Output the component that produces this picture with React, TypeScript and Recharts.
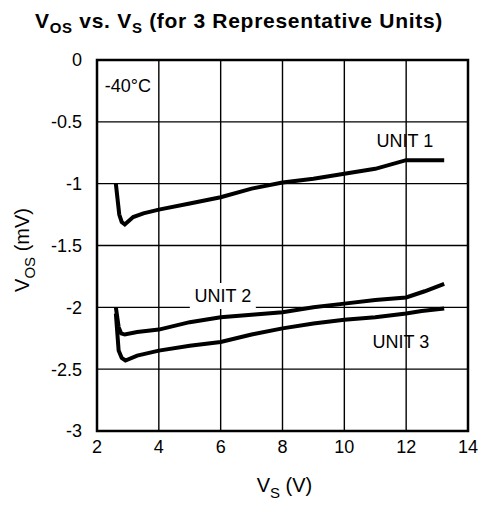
import { LineChart, Line, XAxis, YAxis, CartesianGrid, ReferenceArea, ReferenceDot } from 'recharts';

const X_TICKS = [2, 4, 6, 8, 10, 12, 14];
const Y_TICKS = [0, -0.5, -1, -1.5, -2, -2.5, -3];

const unit1 = [
  { vs: 2.61, vos: -1.0 },
  { vs: 2.72, vos: -1.25 },
  { vs: 2.8, vos: -1.31 },
  { vs: 2.9, vos: -1.33 },
  { vs: 3.17, vos: -1.27 },
  { vs: 3.5, vos: -1.24 },
  { vs: 4.0, vos: -1.21 },
  { vs: 5.0, vos: -1.16 },
  { vs: 6.0, vos: -1.11 },
  { vs: 7.0, vos: -1.04 },
  { vs: 8.0, vos: -0.99 },
  { vs: 9.0, vos: -0.96 },
  { vs: 10.0, vos: -0.92 },
  { vs: 11.0, vos: -0.88 },
  { vs: 12.0, vos: -0.81 },
  { vs: 13.23, vos: -0.81 },
];

const unit2 = [
  { vs: 2.61, vos: -2.0 },
  { vs: 2.7, vos: -2.16 },
  { vs: 2.78, vos: -2.21 },
  { vs: 2.9, vos: -2.22 },
  { vs: 3.3, vos: -2.2 },
  { vs: 4.0, vos: -2.18 },
  { vs: 5.0, vos: -2.12 },
  { vs: 6.0, vos: -2.08 },
  { vs: 7.0, vos: -2.06 },
  { vs: 8.0, vos: -2.04 },
  { vs: 9.0, vos: -2.0 },
  { vs: 10.0, vos: -1.97 },
  { vs: 11.0, vos: -1.94 },
  { vs: 12.0, vos: -1.92 },
  { vs: 12.6, vos: -1.87 },
  { vs: 13.23, vos: -1.81 },
];

const unit3 = [
  { vs: 2.61, vos: -2.05 },
  { vs: 2.7, vos: -2.35 },
  { vs: 2.8, vos: -2.41 },
  { vs: 2.92, vos: -2.43 },
  { vs: 3.3, vos: -2.39 },
  { vs: 4.0, vos: -2.35 },
  { vs: 5.0, vos: -2.31 },
  { vs: 6.0, vos: -2.28 },
  { vs: 7.0, vos: -2.22 },
  { vs: 8.0, vos: -2.17 },
  { vs: 9.0, vos: -2.13 },
  { vs: 10.0, vos: -2.1 },
  { vs: 11.0, vos: -2.08 },
  { vs: 12.0, vos: -2.05 },
  { vs: 12.5, vos: -2.03 },
  { vs: 13.23, vos: -2.01 },
];

const FONT = '"Liberation Sans", Arial, sans-serif';

function TextLabel({ viewBox, text, bg }: any) {
  const x = viewBox.cx ?? viewBox.x;
  const y = viewBox.cy ?? viewBox.y;
  const w = 66;
  return (
    <g>
      {bg && <rect x={x - w / 2} y={y - 19} width={w} height={26} fill="#fff" />}
      <text x={x} y={y} textAnchor="middle" fontSize={18} fontFamily={FONT} fill="#000">
        {text}
      </text>
    </g>
  );
}

function XLabel({ viewBox }: any) {
  const cx = viewBox.x + viewBox.width / 2;
  return (
    <text x={cx + 2} y={492} textAnchor="middle" fontSize={20} fontFamily={FONT} fill="#000">
      V<tspan fontSize={15} dy={6}>S</tspan><tspan dy={-6}> (V)</tspan>
    </text>
  );
}

function YLabel() {
  return (
    <text x={0} y={0} transform="translate(29,250) rotate(-90)" textAnchor="middle" fontSize={20} fontFamily={FONT} fill="#000">
      V<tspan fontSize={15} dy={6}>OS</tspan><tspan dy={-6}> (mV)</tspan>
    </text>
  );
}

export default function App() {
  return (
    <div style={{ position: 'absolute', left: 0, top: 0, width: 482, height: 508, background: '#fff' }}>
      <svg width={482} height={40} style={{ position: 'absolute', left: 0, top: 0 }}>
        <text x={35} y={28} fontSize={21} fontWeight="bold" letterSpacing={0.7} fontFamily={FONT} fill="#000">
          V<tspan fontSize={15} dy={5}>OS</tspan><tspan dy={-5}> vs. V</tspan><tspan fontSize={15} dy={5}>S</tspan><tspan dy={-5}> (for 3 Representative Units)</tspan>
        </text>
      </svg>
      <LineChart width={482} height={508} margin={{ top: 60, right: 14, bottom: 47, left: 40 }}>
        <CartesianGrid stroke="#000" strokeWidth={1.4} horizontalValues={Y_TICKS} verticalValues={X_TICKS} />
        <XAxis
          type="number"
          dataKey="vs"
          domain={[2, 14]}
          ticks={X_TICKS}
          axisLine={false}
          tickLine={false}
          tickMargin={3}
          height={30}
          tick={{ fill: '#000', fontSize: 18, fontFamily: FONT }}
          label={<XLabel />}
          allowDuplicatedCategory={false}
        />
        <YAxis
          type="number"
          domain={[-3, 0]}
          ticks={Y_TICKS}
          axisLine={false}
          tickLine={false}
          tickMargin={9}
          width={57}
          tick={{ fill: '#000', fontSize: 18, fontFamily: FONT }}
          label={<YLabel />}
        />
        <ReferenceArea x1={2} x2={14} y1={-3} y2={0} fill="none" stroke="#000" strokeWidth={2.5} ifOverflow="visible" />
        <ReferenceDot x={6.07} y={-1.957} r={0} label={<TextLabel text="UNIT 2" bg />} />
        <Line data={unit1} dataKey="vos" stroke="#000" strokeWidth={4} dot={false} isAnimationActive={false} type="linear" />
        <Line data={unit2} dataKey="vos" stroke="#000" strokeWidth={4} dot={false} isAnimationActive={false} type="linear" />
        <Line data={unit3} dataKey="vos" stroke="#000" strokeWidth={4} dot={false} isAnimationActive={false} type="linear" />
        <ReferenceDot x={3.0} y={-0.259} r={0} label={<TextLabel text="-40°C" />} />
        <ReferenceDot x={11.96} y={-0.703} r={0} label={<TextLabel text="UNIT 1" />} />
        <ReferenceDot x={11.83} y={-2.329} r={0} label={<TextLabel text="UNIT 3" />} />
      </LineChart>
    </div>
  );
}
